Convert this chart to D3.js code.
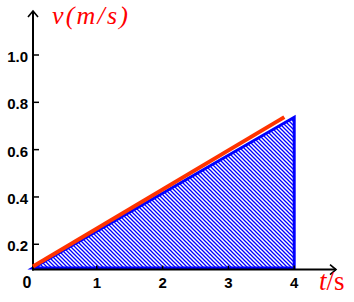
<!DOCTYPE html>
<html><head><meta charset="utf-8">
<script src="https://cdn.jsdelivr.net/npm/d3@7"></script>
<style>body{margin:0;background:#fff}svg{display:block}</style>
</head><body>
<script>
const xTicks = [1, 2, 3, 4];
const yTicks = [0.2, 0.4, 0.6, 0.8, 1.0];
const yTickLabels = ["0.2", "0.4", "0.6", "0.8", "1.0"];
const areaT = [0, 4, 4];
const areaV = [0.1, 0.737, 0.1];
const redT = [0, 3.85];
const redV = [0.1, 0.731];
const axisV = 0.093;

const W = 354, H = 302;
const svg = d3.select("body").append("svg").attr("width", W).attr("height", H);
const x = d3.scaleLinear().domain([0, 4]).range([31, 294.2]);
const y = d3.scaleLinear().domain([0, 1]).range([291.6, 55]);

const defs = svg.append("defs");
const pat = defs.append("pattern").attr("id", "hatch").attr("patternUnits", "userSpaceOnUse")
  .attr("width", 4).attr("height", 4);
pat.append("path").attr("d", "M-1,-1 L5,5 M-1,3 L1,5 M3,-1 L5,1")
  .attr("stroke", "#0000ff").attr("stroke-width", 1.3);

const x0 = 33, yAxis = y(axisV);

// hatched area
const pts = areaT.map((t, i) => [x(t), y(areaV[i])]);
pts[0][0] = x0;
svg.append("path").attr("d", d3.line()(pts) + "Z")
  .attr("fill", "url(#hatch)").attr("stroke", "#0000ff").attr("stroke-width", 3)
  .attr("stroke-linejoin", "miter");

// axes
svg.append("line").attr("x1", x0).attr("x2", x0).attr("y1", yAxis + 1).attr("y2", 11)
  .attr("stroke", "#000").attr("stroke-width", 2);
svg.append("path").attr("d", `M${x0-5},${17} L${x0},${11} L${x0+5},${17}`)
  .attr("fill", "none").attr("stroke", "#000").attr("stroke-width", 1.6);
svg.append("line").attr("x1", x0 - 1).attr("x2", 336).attr("y1", yAxis).attr("y2", yAxis)
  .attr("stroke", "#000").attr("stroke-width", 2);
svg.append("path").attr("d", `M${330},${yAxis-5} L${336},${yAxis} L${330},${yAxis+5}`)
  .attr("fill", "none").attr("stroke", "#000").attr("stroke-width", 1.6);

// y ticks
yTicks.forEach((v, i) => {
  svg.append("line").attr("x1", x0).attr("x2", x0 + 6).attr("y1", y(v)).attr("y2", y(v))
    .attr("stroke", "#000").attr("stroke-width", 1.5);
  svg.append("text").attr("x", 28).attr("y", y(v) + 7).attr("text-anchor", "end")
    .attr("font-family", "Liberation Sans, Arial, sans-serif").attr("font-weight", "bold")
    .attr("font-size", 15).text(yTickLabels[i]);
});
// x ticks
xTicks.forEach(t => {
  svg.append("line").attr("x1", x(t)).attr("x2", x(t)).attr("y1", yAxis).attr("y2", yAxis - 4)
    .attr("stroke", "#000").attr("stroke-width", 1.5);
  svg.append("text").attr("x", x(t)).attr("y", 288).attr("text-anchor", "middle")
    .attr("font-family", "Liberation Sans, Arial, sans-serif").attr("font-weight", "bold")
    .attr("font-size", 15).text(t);
});
svg.append("text").attr("x", 27).attr("y", 288).attr("text-anchor", "middle")
  .attr("font-family", "Liberation Sans, Arial, sans-serif").attr("font-weight", "bold")
  .attr("font-size", 16).text("0");

// red line
svg.append("path").attr("d", d3.line()(redT.map((t, i) => [i === 0 ? x0 : x(t), y(redV[i]) - 1.5])))
  .attr("stroke", "#ff3300").attr("stroke-width", 4).attr("fill", "none");

// labels
svg.append("text").attr("x", 52).attr("y", 24)
  .attr("font-family", "Liberation Serif, Times New Roman, serif").attr("font-style", "italic")
  .attr("font-size", 26).attr("letter-spacing", 2.2).attr("fill", "#ff0000").text("v(m/s)");
const tl = svg.append("text").attr("x", 319).attr("y", 290)
  .attr("font-family", "Liberation Serif, Times New Roman, serif")
  .attr("font-size", 27).attr("fill", "#ff0000");
tl.append("tspan").attr("font-style", "italic").text("t");
tl.append("tspan").text("/s");
</script>
</body></html>
